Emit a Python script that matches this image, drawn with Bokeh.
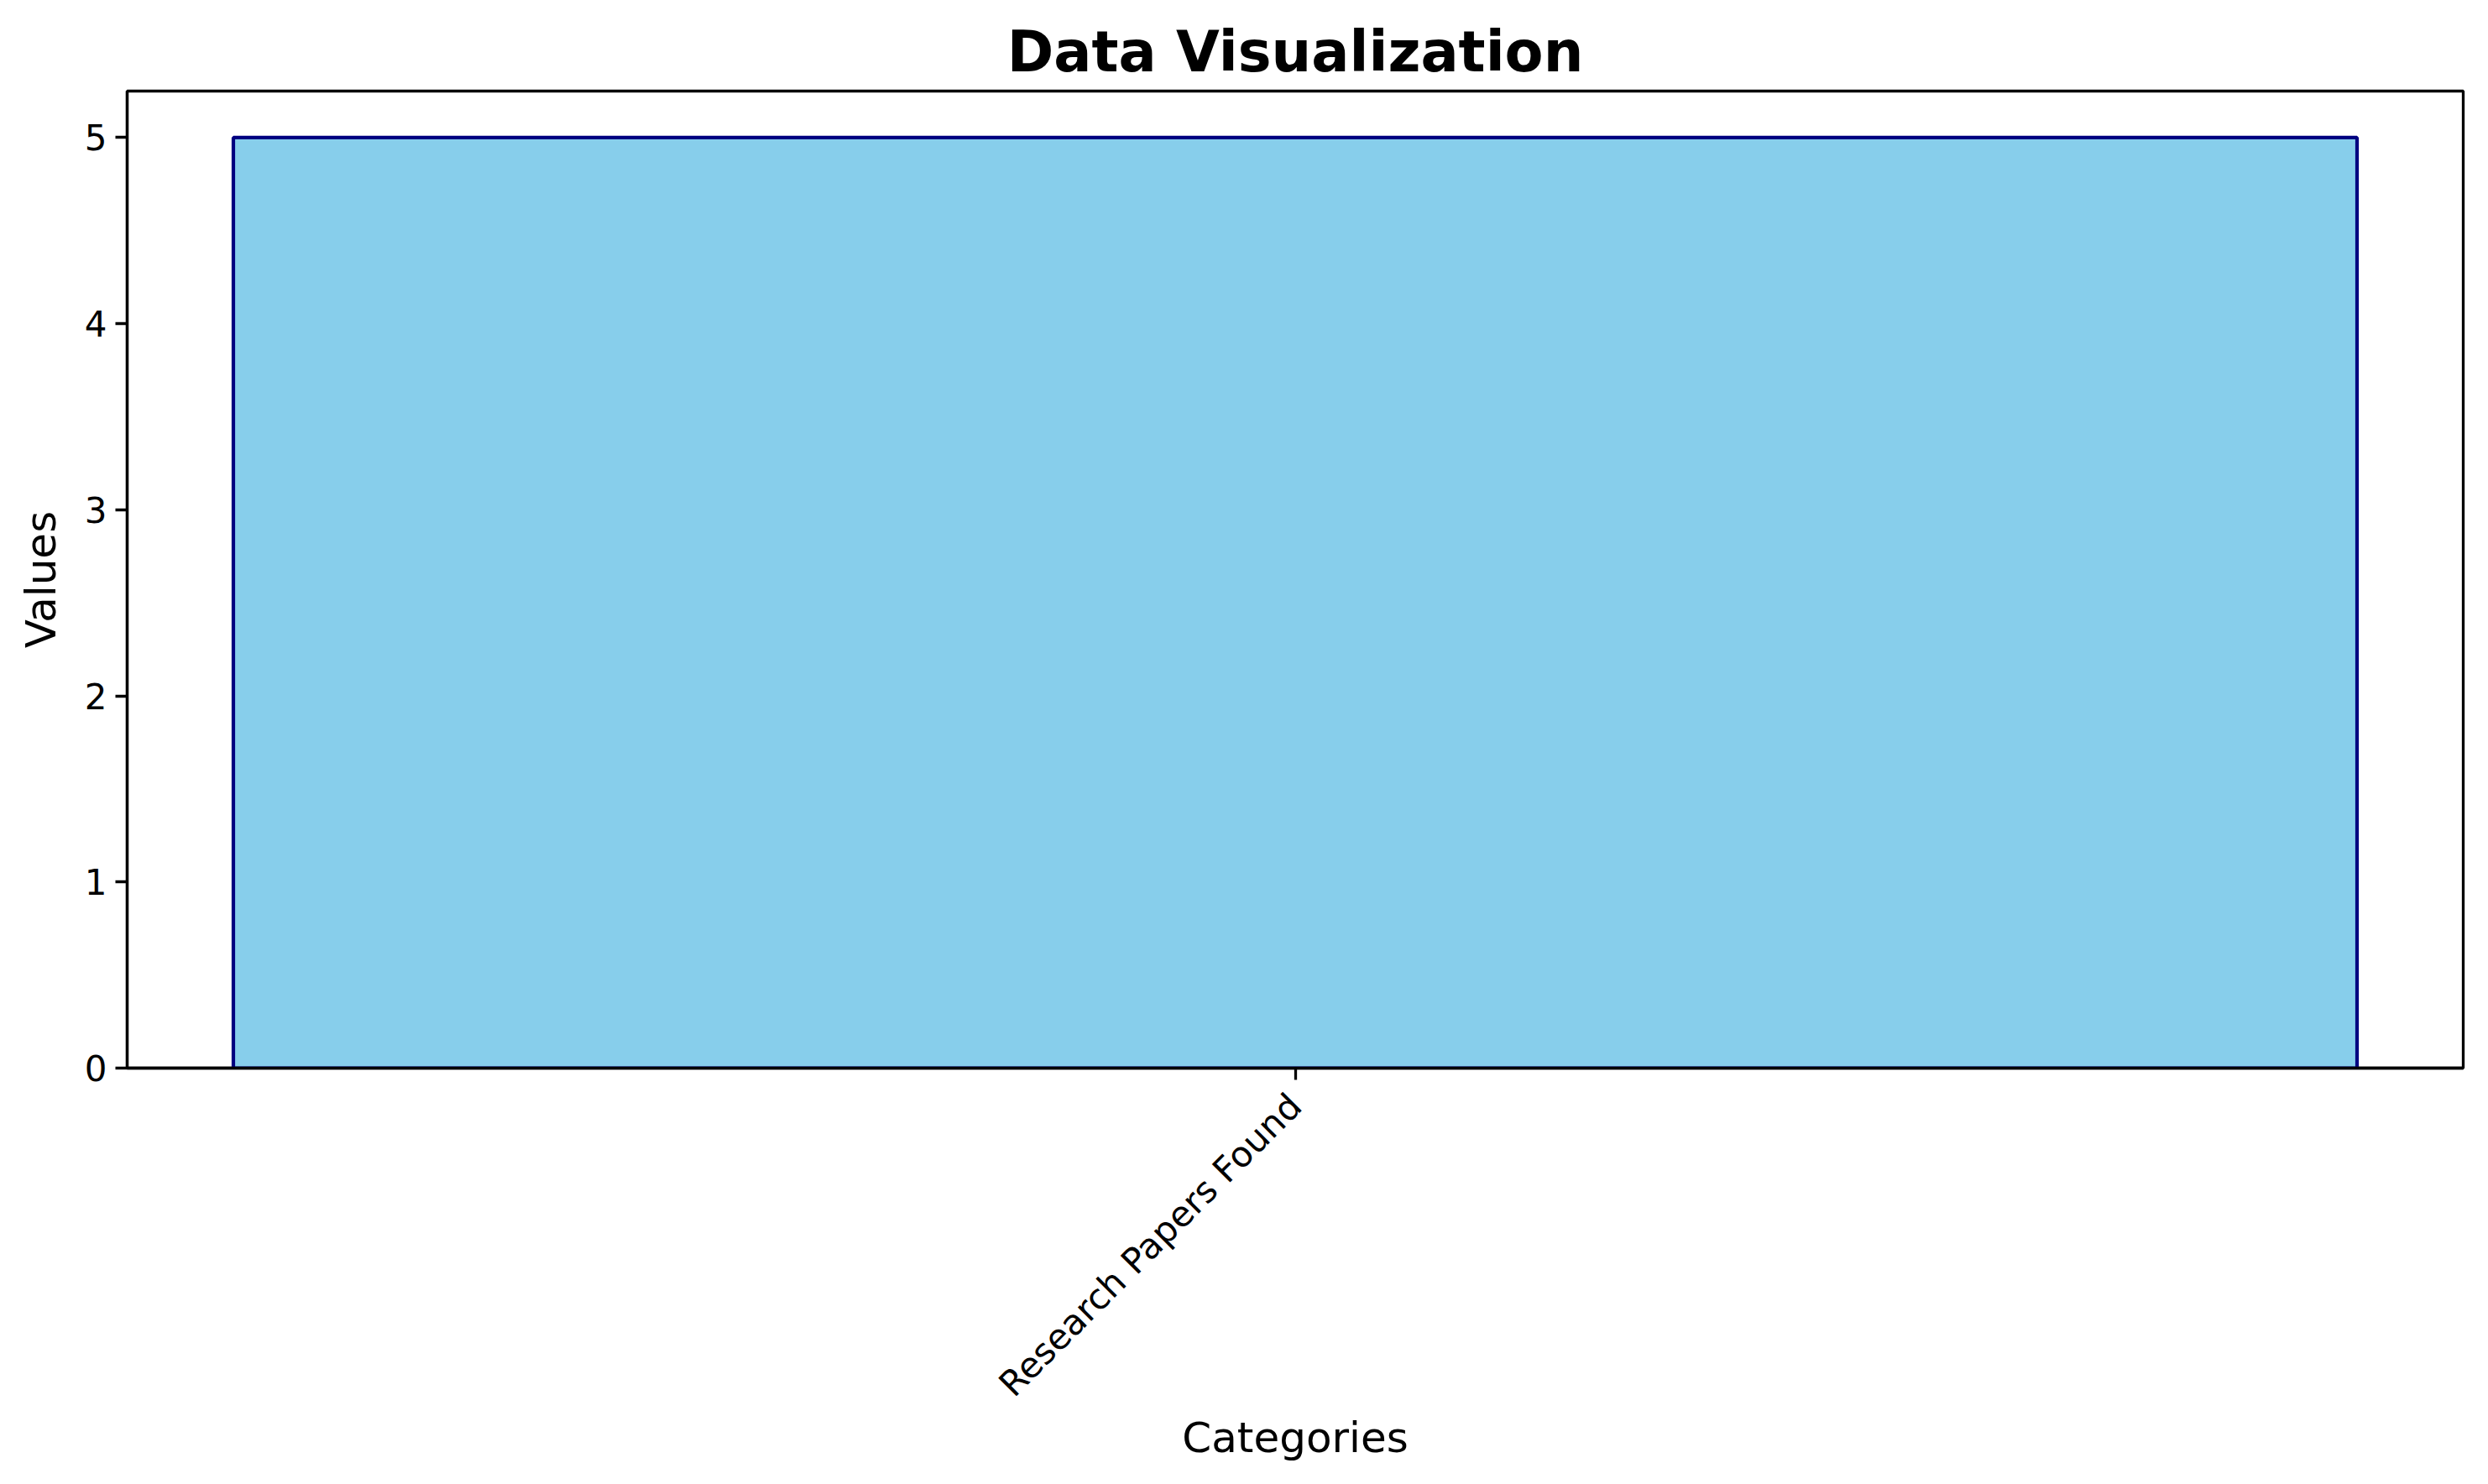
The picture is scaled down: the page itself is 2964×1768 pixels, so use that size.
import math
from bokeh.plotting import figure
from bokeh.models import Range1d, FixedTicker, ColumnDataSource
from bokeh.embed import file_html
from bokeh.resources import INLINE

# Data
categories = ["Research Papers Found"]
values = [5]

# Styling
FONT = "DejaVu Sans"
BAR_WIDTH = 0.8
LW = 3.3

xs = list(range(len(categories)))
source = ColumnDataSource(data=dict(x=xs, value=values, cat=categories))

half = BAR_WIDTH / 2
pad = 0.05 * (2 * half + (len(xs) - 1))
x_range = Range1d(min(xs) - half - pad, max(xs) + half + pad)
y_range = Range1d(0, max(values) * 1.05)

p = figure(
    width=2964, height=1768,
    x_range=x_range, y_range=y_range,
    output_backend="svg", toolbar_location=None,
    title="Data Visualization",
    min_border_left=151, min_border_right=30,
    min_border_top=108, min_border_bottom=496,
)

p.vbar(x="x", top="value", width=BAR_WIDTH, bottom=0, source=source,
       fill_color="#87CEEB", line_color="#000080", line_width=4.2)

p.title.text_font = FONT
p.title.text_font_size = "67px"
p.title.text_font_style = "bold"
p.title.text_color = "black"
p.title.align = "center"
p.title.standoff = 16

p.xgrid.visible = False
p.ygrid.visible = False

p.outline_line_color = "black"
p.outline_line_width = LW
p.outline_line_alpha = 1.0

p.xaxis.ticker = FixedTicker(ticks=xs)
p.xaxis.major_label_overrides = {i: c for i, c in zip(xs, categories)}
p.xaxis.major_label_orientation = math.pi / 4
p.xaxis.axis_label = "Categories"

p.yaxis.ticker = FixedTicker(ticks=list(range(0, int(max(values)) + 1)))
p.yaxis.axis_label = "Values"

for ax in (p.xaxis[0], p.yaxis[0]):
    ax.axis_line_color = "black"
    ax.axis_line_width = LW
    ax.major_tick_line_color = "black"
    ax.major_tick_line_width = LW
    ax.major_tick_out = 14
    ax.major_tick_in = 0
    ax.minor_tick_line_color = None
    ax.major_label_text_font = FONT
    ax.major_label_text_font_size = "42px"
    ax.major_label_text_color = "black"
    ax.axis_label_text_font = FONT
    ax.axis_label_text_font_size = "50px"
    ax.axis_label_text_font_style = "normal"
    ax.axis_label_text_color = "black"
    ax.major_label_standoff = 10

p.xaxis.major_label_standoff = 24
p.xaxis.axis_label_standoff = -10
p.yaxis.axis_label_standoff = 20

p.background_fill_color = "white"
p.border_fill_color = "white"

open("out.html", "w").write(file_html(p, INLINE))
